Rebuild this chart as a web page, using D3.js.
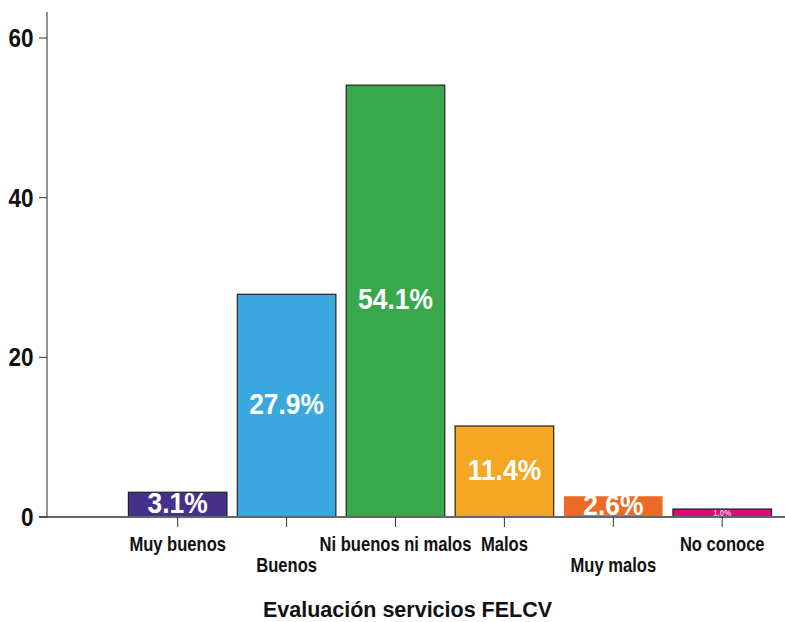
<!DOCTYPE html>
<html>
<head>
<meta charset="utf-8">
<script src="https://cdn.jsdelivr.net/npm/d3@7"></script>
<style>
  html, body { margin: 0; padding: 0; background: #fff; }
  svg { display: block; }
  text { font-family: "Liberation Sans", Arial, sans-serif; }
</style>
</head>
<body>
<div id="chart"></div>
<script>
// Survey results: rating of FELCV services (percent of respondents)
const categories = ["Muy buenos", "Buenos", "Ni buenos ni malos", "Malos", "Muy malos", "No conoce"];
const values = [3.1, 27.9, 54.1, 11.4, 2.6, 1.0];
const colors = ["#45308a", "#3aa8df", "#38a84a", "#f5a623", "#eb6a25", "#e0087a"];
const yTicks = [0, 20, 40, 60];
const axisTitle = "Evaluación servicios FELCV";

const W = 785, H = 622;
const y0 = 517, yTop = 12;

const svg = d3.select("#chart").append("svg")
  .attr("width", W).attr("height", H);

// place a text at (cx, cy) squeezed horizontally to give a condensed face
function placeNarrow(sel, cx, cy, sx) {
  sel.attr("x", 0).attr("y", 0)
    .attr("transform", (d, i) => `translate(${cx(d, i)},${cy(d, i)}) scale(${sx},1)`);
}

const x = d3.scaleBand()
  .domain(categories)
  .range([128.4, 771.5])
  .paddingInner(0.095)
  .paddingOuter(0);

const y = d3.scaleLinear()
  .domain([0, 63.26])
  .range([y0, yTop]);

// clip so labels on short bars don't spill below the baseline
svg.append("clipPath").attr("id", "plot-clip")
  .append("rect").attr("x", 48).attr("y", 0).attr("width", W - 48).attr("height", y0 - 1);

const plot = svg.append("g").attr("clip-path", "url(#plot-clip)");

plot.selectAll("rect.bar")
  .data(categories)
  .join("rect")
  .attr("class", "bar")
  .attr("x", d => x(d))
  .attr("y", (d, i) => y(values[i]))
  .attr("width", x.bandwidth())
  .attr("height", (d, i) => y0 - y(values[i]))
  .attr("fill", (d, i) => colors[i])
  .attr("stroke", (d, i) => d === "Muy malos" ? "none" : "#222")
  .attr("stroke-width", 1.2);

const isThin = i => (y0 - y(values[i])) < 12;
const valLabels = plot.selectAll("text.val")
  .data(categories)
  .join("text")
  .attr("class", "val")
  .attr("dy", (d, i) => isThin(i) ? "0.38em" : "0.27em")
  .attr("text-anchor", "middle")
  .attr("font-size", (d, i) => isThin(i) ? "9px" : "30px")
  .attr("font-weight", "bold")
  .attr("fill", "#fff")
  .attr("fill-opacity", (d, i) => isThin(i) ? 0.75 : 1)
  .text((d, i) => values[i].toFixed(1) + "%");
placeNarrow(valLabels, d => x(d) + x.bandwidth() / 2, (d, i) => (y(values[i]) + y0) / 2, 0.88);

// y axis
const yAxis = svg.append("g");
yAxis.append("line")
  .attr("x1", 47).attr("x2", 47).attr("y1", yTop).attr("y2", y0)
  .attr("stroke", "#777").attr("stroke-width", 1.6);
yAxis.selectAll("line.tick")
  .data(yTicks).join("line")
  .attr("x1", 39).attr("x2", 47)
  .attr("y1", d => y(d)).attr("y2", d => y(d))
  .attr("stroke", "#333").attr("stroke-width", 1);
const yLabels = yAxis.selectAll("text")
  .data(yTicks).join("text")
  .attr("dy", "0.36em")
  .attr("text-anchor", "end")
  .attr("font-size", "25px").attr("font-weight", "bold").attr("fill", "#111")
  .text(d => d);
placeNarrow(yLabels, () => 33.5, d => y(d), 0.9);

// x axis
const xAxis = svg.append("g");
xAxis.append("line")
  .attr("x1", 39).attr("x2", W).attr("y1", y0).attr("y2", y0)
  .attr("stroke", "#333").attr("stroke-width", 1.4);
xAxis.selectAll("line.tick")
  .data(categories).join("line")
  .attr("x1", d => x(d) + x.bandwidth() / 2).attr("x2", d => x(d) + x.bandwidth() / 2)
  .attr("y1", y0).attr("y2", y0 + 10)
  .attr("stroke", "#333").attr("stroke-width", 1);
// alternate rows so long names don't collide
const lowered = new Set(["Buenos", "Muy malos"]);
const xLabels = xAxis.selectAll("text")
  .data(categories).join("text")
  .attr("text-anchor", "middle")
  .attr("font-size", "19.5px").attr("font-weight", "bold").attr("fill", "#111")
  .text(d => d);
placeNarrow(xLabels, d => x(d) + x.bandwidth() / 2, d => lowered.has(d) ? 572 : 551, 0.85);

svg.append("text")
  .attr("x", 407.5).attr("y", 617)
  .attr("text-anchor", "middle")
  .attr("font-size", "21.5px").attr("font-weight", "bold").attr("fill", "#111")
  .text(axisTitle);
</script>
</body>
</html>
